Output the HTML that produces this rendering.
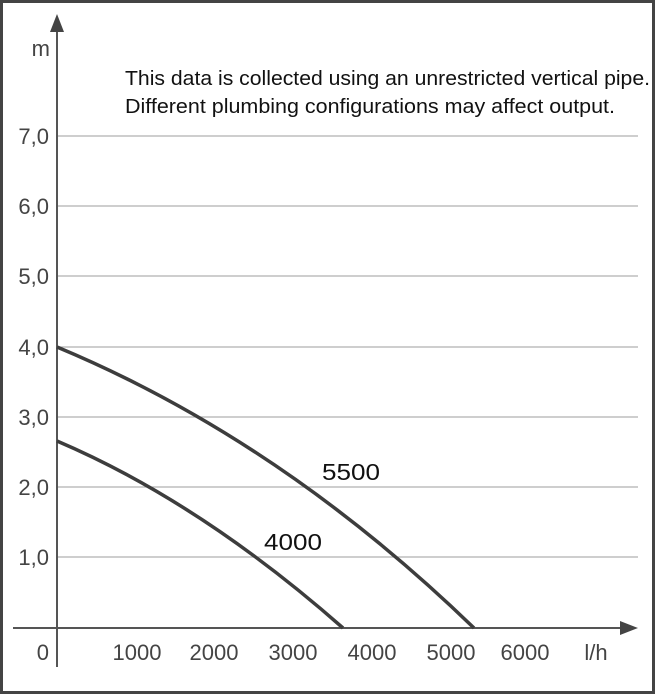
<!DOCTYPE html>
<html><head><style>
html,body{margin:0;padding:0;background:#fff}
svg{display:block}
text{font-family:"Liberation Sans",sans-serif}
</style></head><body>
<svg width="655" height="694" viewBox="0 0 655 694">
<rect x="1.5" y="1.5" width="652" height="691" fill="#fff" stroke="#444" stroke-width="3"/>
<g stroke="#b0b0b0" stroke-width="1.2">
<line x1="57" y1="136" x2="638" y2="136"/>
<line x1="57" y1="206" x2="638" y2="206"/>
<line x1="57" y1="276" x2="638" y2="276"/>
<line x1="57" y1="347" x2="638" y2="347"/>
<line x1="57" y1="417" x2="638" y2="417"/>
<line x1="57" y1="487" x2="638" y2="487"/>
<line x1="57" y1="557" x2="638" y2="557"/>
</g>
<g stroke="#555" stroke-width="2" fill="none">
<line x1="57" y1="28" x2="57" y2="667"/>
<line x1="13" y1="628" x2="625" y2="628"/>
</g>
<polygon points="57,14 50,32 64,32" fill="#444"/>
<polygon points="638,628 620,621 620,635" fill="#444"/>
<g stroke="#3d3d3d" stroke-width="3.5" fill="none">
<path d="M57,347 Q280,440 474,628"/>
<path d="M57,441 Q200,502 343,628"/>
</g>
<g font-size="22" fill="#444" text-anchor="end">
<text x="50" y="56">m</text>
<text x="49" y="144">7,0</text>
<text x="49" y="214">6,0</text>
<text x="49" y="284">5,0</text>
<text x="49" y="355">4,0</text>
<text x="49" y="425">3,0</text>
<text x="49" y="495">2,0</text>
<text x="49" y="565">1,0</text>
<text x="49" y="660">0</text>
</g>
<g font-size="22" fill="#444" text-anchor="middle">
<text x="137" y="660">1000</text>
<text x="214" y="660">2000</text>
<text x="293" y="660">3000</text>
<text x="372" y="660">4000</text>
<text x="451" y="660">5000</text>
<text x="525" y="660">6000</text>
<text x="596" y="660">l/h</text>
</g>
<g font-size="20" fill="#111">
<text x="125" y="85" textLength="525" lengthAdjust="spacingAndGlyphs">This data is collected using an unrestricted vertical pipe.</text>
<text x="125" y="113" textLength="490" lengthAdjust="spacingAndGlyphs">Different plumbing configurations may affect output.</text>
</g>
<g font-size="23" fill="#111">
<text x="322" y="480" textLength="58" lengthAdjust="spacingAndGlyphs">5500</text>
<text x="264" y="550" textLength="58" lengthAdjust="spacingAndGlyphs">4000</text>
</g>
</svg>
</body></html>
